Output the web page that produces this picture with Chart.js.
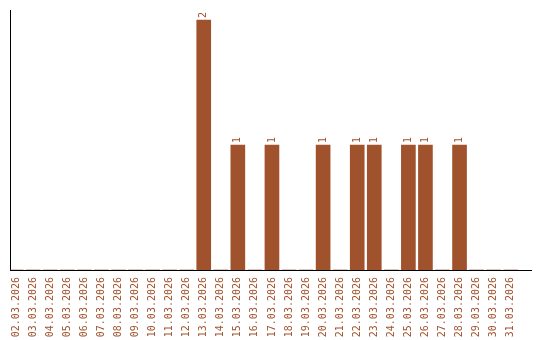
<!DOCTYPE html>
<html>
<head>
<meta charset="utf-8">
<script src="https://cdn.jsdelivr.net/npm/chart.js@4/dist/chart.umd.min.js"></script>
<style>
  html, body { margin: 0; padding: 0; background: #fff; }
  #wrap { width: 540px; height: 340px; }
</style>
</head>
<body>
<div id="wrap"><canvas id="chart"></canvas></div>
<script>
// days of March 2026 and the count for each one
const dates = [
  '02.03.2026', '03.03.2026', '04.03.2026', '05.03.2026', '06.03.2026',
  '07.03.2026', '08.03.2026', '09.03.2026', '10.03.2026', '11.03.2026',
  '12.03.2026', '13.03.2026', '14.03.2026', '15.03.2026', '16.03.2026',
  '17.03.2026', '18.03.2026', '19.03.2026', '20.03.2026', '21.03.2026',
  '22.03.2026', '23.03.2026', '24.03.2026', '25.03.2026', '26.03.2026',
  '27.03.2026', '28.03.2026', '29.03.2026', '30.03.2026', '31.03.2026'
];
const counts = [
  0, 0, 0, 0, 0, 0, 0, 0, 0, 0,
  0, 2, 0, 1, 0, 1, 0, 0, 1, 0,
  1, 1, 0, 1, 1, 0, 1, 0, 0, 0
];

const barColor = '#a0522d';

Chart.defaults.font.family = "'DejaVu Sans Mono', monospace";
Chart.defaults.font.size = 10;
Chart.defaults.color = barColor;

// value written above each bar, turned like the date labels
const barValues = {
  id: 'barValues',
  afterDatasetsDraw(chart) {
    const ctx = chart.ctx;
    const meta = chart.getDatasetMeta(0);
    ctx.save();
    ctx.fillStyle = barColor;
    ctx.font = "10px 'DejaVu Sans Mono', monospace";
    meta.data.forEach((bar, i) => {
      if (!counts[i]) return;
      ctx.save();
      ctx.translate(bar.x, bar.y - 2);
      ctx.rotate(-Math.PI / 2);
      ctx.textAlign = 'left';
      ctx.textBaseline = 'middle';
      ctx.fillText(String(counts[i]), 0, 0);
      ctx.restore();
    });
    ctx.restore();
  }
};

const ctx = document.getElementById('chart').getContext('2d');
new Chart(ctx, {
  type: 'bar',
  data: {
    datasets: [{
      data: counts.map((v, i) => ({ x: i, y: v })),
      backgroundColor: barColor,
      borderWidth: 0,
      barThickness: 14
    }]
  },
  options: {
    responsive: true,
    maintainAspectRatio: false,
    animation: false,
    layout: { padding: { left: 10, right: 9, top: 10, bottom: 0 } },
    plugins: { legend: { display: false }, tooltip: { enabled: false } },
    scales: {
      x: {
        type: 'linear',
        offset: false,
        min: -0.36,
        max: 30.19,
        grid: { display: false, drawTicks: false },
        border: { display: true, color: '#000', width: 1 },
        afterBuildTicks: (axis) => {
          axis.ticks = dates.map((d, i) => ({ value: i }));
        },
        afterFit: (axis) => { axis.height = 70; },
        ticks: {
          autoSkip: false,
          minRotation: 90,
          maxRotation: 90,
          padding: 7,
          color: barColor,
          callback: (value) => dates[value] || ''
        }
      },
      y: {
        min: 0,
        max: 2.08,
        grid: { display: false, drawTicks: false },
        border: { display: true, color: '#000', width: 1 },
        afterFit: (axis) => { axis.width = 0; },
        ticks: { display: false }
      }
    }
  },
  plugins: [barValues]
});
</script>
</body>
</html>
